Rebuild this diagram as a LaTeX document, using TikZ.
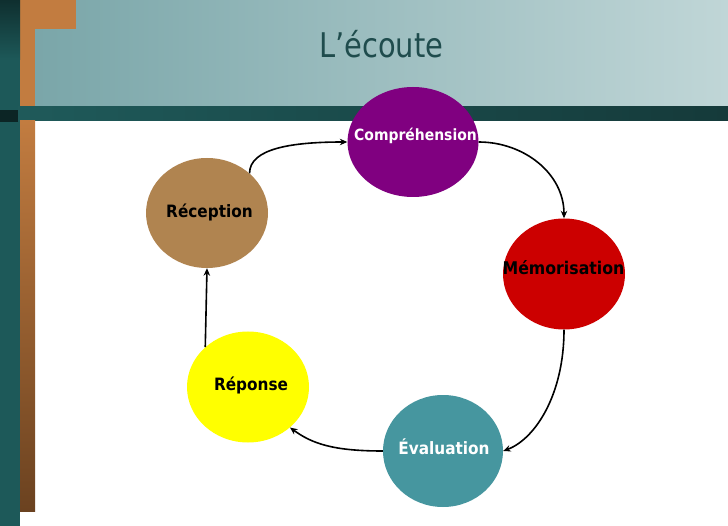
\documentclass[tikz,border=0pt]{standalone}
\usepackage{fontspec}
\setmainfont{DejaVu Sans}
\newfontfamily\titlefont[FakeStretch=0.85]{DejaVu Sans}
\newfontfamily\lblfont[FakeStretch=0.9]{DejaVu Sans}
\usetikzlibrary{arrows.meta,shapes.geometric}
\definecolor{tealdark}{HTML}{1D5959}
\definecolor{tealdeep}{HTML}{0F2F2F}
\definecolor{bandL}{HTML}{1F5A5A}
\definecolor{bandR}{HTML}{153A3A}
\definecolor{headL}{HTML}{7AA6A9}
\definecolor{headR}{HTML}{C0D6D7}
\definecolor{orangeS}{HTML}{C27C40}
\definecolor{brownS}{HTML}{6B4220}
\definecolor{titlecol}{HTML}{1F4C4D}
\definecolor{cpurple}{HTML}{800080}
\definecolor{cbrown}{HTML}{B08450}
\definecolor{cred}{HTML}{CC0000}
\definecolor{cyellow}{HTML}{FFFF00}
\definecolor{cteal}{HTML}{46969F}
\tikzset{
  blob/.style={ellipse, draw=none, inner sep=0pt, minimum width=122pt, minimum height=111pt},
  lbl/.style={anchor=base, inner sep=0pt, font=\lblfont\bfseries\fontsize{17}{19}\selectfont},
  conn/.style={line width=1.6pt, -{Stealth[length=7.5pt,width=6.5pt]}}
}
\begin{document}
\begin{tikzpicture}[x=1pt,y=-1pt]
\useasboundingbox (0,0) rectangle (728,526);
\fill[white] (0,0) rectangle (728,526);
% header gradient
\shade[left color=headL, right color=headR] (35,0) rectangle (728,107);
% orange decoration
\fill[orangeS] (20,0) rectangle (76,29);
\fill[orangeS] (20,0) rectangle (35,107);
% left teal strip
\fill[tealdark] (0,0) rectangle (20,526);
\shade[top color=tealdeep, bottom color=tealdark] (0,0) rectangle (20,60);
\fill[tealdeep!80!black] (0,110) rectangle (18,122);
% dark band
\shade[left color=bandL, right color=bandR] (18,107) rectangle (728,121);
% orange strip below band
\shade[top color=orangeS, bottom color=brownS] (20,121) rectangle (35,511);
% title
\node[anchor=base west, inner sep=0pt, text=titlecol, font=\titlefont\fontsize{34}{38}\selectfont] (title) at (319,58) {L’écoute};
% ellipses
\node[blob, fill=cpurple, minimum width=131pt, minimum height=110pt] (comp) at (413,142) {};
\node[blob, fill=cbrown, minimum height=110pt] (rec) at (207,213) {};
\node[blob, fill=cred] (mem) at (564,274) {};
\node[blob, fill=cteal, minimum width=120pt, minimum height=112pt] (eva) at (443,451) {};
\node[blob, fill=cyellow] (rep) at (248,387) {};
% labels
\node[lbl, text=white, font=\lblfont\bfseries\fontsize{15.5}{18}\selectfont] (compT) at (415.5,141) {Compréhension};
\node[lbl, text=black] (recT) at (209.5,218) {Réception};
\node[lbl, text=black, font=\lblfont\bfseries\fontsize{17.5}{19}\selectfont] (memT) at (563.5,275) {Mémorisation};
\node[lbl, text=white] (evaT) at (444,454) {Évaluation};
\node[lbl, text=black] (repT) at (251,391) {Réponse};
% connectors
\draw[conn] (rec.43) .. controls +(0,-25) and +(-55,0) .. (comp.west);
\draw[conn] (comp.east) .. controls +(45,0) and +(0,-45) .. (mem.north);
\draw[conn] (mem.south) .. controls +(0,65) and +(32,-12) .. (eva.east);
\draw[conn] (eva.west) .. controls +(-50,0) and +(22,16) .. (rep.-44);
\draw[conn] (rep.137) -- (rec.south);
\end{tikzpicture}
\end{document}
